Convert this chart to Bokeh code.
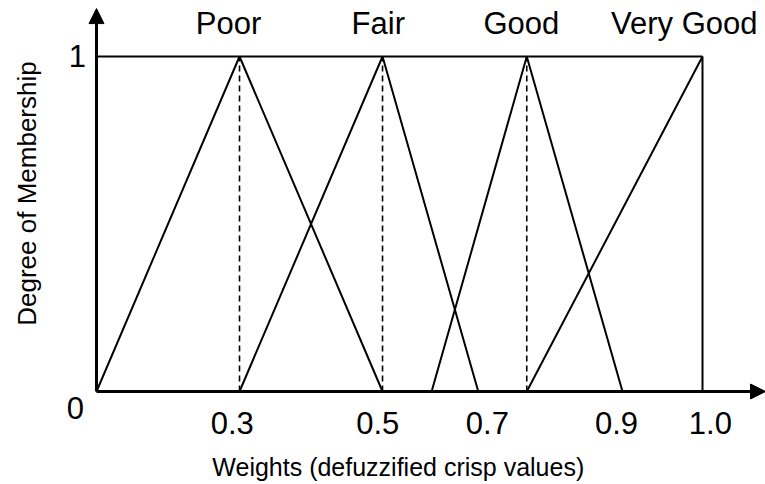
from bokeh.plotting import figure
from bokeh.models import Range1d, Arrow, NormalHead
from bokeh.core.properties import value
from bokeh.embed import file_html
from bokeh.resources import INLINE

# ---- data (schematic positions along the weight axis, 1.0 = right end) ----
membership = [0, 1, 0]
poor_x = [0.0, 0.236, 0.472]
fair_x = [0.236, 0.472, 0.630]
good_x = [0.553, 0.710, 0.868]
vgood_x = [0.710, 1.0, 1.0]
peak_x = [0.236, 0.472, 0.710]          # dashed lines at the peaks
categories = ["Poor", "Fair", "Good", "Very Good"]
tick_labels = ["0.3", "0.5", "0.7", "0.9", "1.0"]

# ---- layout ----
cat_label_x = [0.218, 0.465, 0.701, 0.970]
cat_label_y = 1.098
tick_label_x = [0.224, 0.464, 0.645, 0.858, 1.013]
tick_label_y = -0.093
x_axis_end = 1.104
y_axis_end = 1.143

FONT = value("Liberation Sans")

p = figure(width=765, height=484, output_backend="svg", toolbar_location=None,
           x_range=Range1d(-0.15842, 1.10396), y_range=Range1d(-0.27761, 1.16716),
           x_axis_location=None, y_axis_location=None, min_border=0,
           outline_line_color=None, background_fill_color="white",
           border_fill_color="white")
p.grid.visible = False

# top line at membership 1
p.line([0.0, 1.0], [1, 1], line_color="black", line_width=2)

# membership functions
for xs in (poor_x, fair_x, good_x, vgood_x):
    p.line(xs, membership, line_color="black", line_width=2)

# dashed peak lines
p.segment(x0=peak_x, y0=[0] * len(peak_x), x1=peak_x, y1=[1] * len(peak_x),
          line_color="black", line_width=1.6, line_dash="6 4")

# axes with arrows
p.add_layout(Arrow(end=NormalHead(size=15, fill_color="black", line_color="black"),
                   x_start=0, y_start=0, x_end=0, y_end=y_axis_end,
                   line_color="black", line_width=3))
p.add_layout(Arrow(end=NormalHead(size=15, fill_color="black", line_color="black"),
                   x_start=0, y_start=0, x_end=x_axis_end, y_end=0,
                   line_color="black", line_width=3))

# category labels
p.text(x=cat_label_x, y=[cat_label_y] * len(categories), text=categories,
       text_font=FONT, text_font_size="31px", text_align="center",
       text_baseline="middle", text_color="black")

# tick labels
p.text(x=tick_label_x, y=[tick_label_y] * len(tick_labels), text=tick_labels,
       text_font=FONT, text_font_size="31px", text_align="center",
       text_baseline="middle", text_color="black")

# y tick labels 0 and 1
p.text(x=[-0.0347, -0.0314], y=[-0.048, 1.0], text=["0", "1"],
       text_font=FONT, text_font_size="31px", text_align="center",
       text_baseline="middle", text_color="black")

# axis titles
p.text(x=[0.498], y=[-0.224], text=["Weights (defuzzified crisp values)"],
       text_font=FONT, text_font_size="25px", text_align="center",
       text_baseline="middle", text_color="black")
p.text(x=[-0.1139], y=[0.591], text=["Degree of Membership"], angle=1.5708,
       text_font=FONT, text_font_size="26px", text_align="center",
       text_baseline="middle", text_color="black")

open("out.html", "w").write(file_html(p, INLINE))
